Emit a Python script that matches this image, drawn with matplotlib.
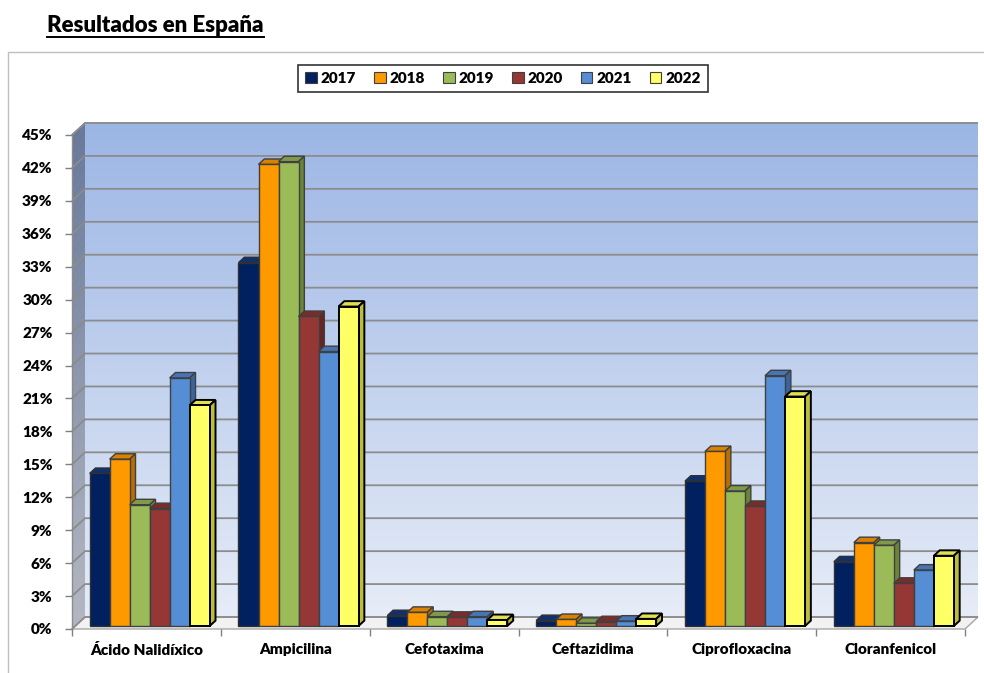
import matplotlib
matplotlib.use('Agg')
import matplotlib.pyplot as plt
from matplotlib.patches import Polygon, Rectangle, Patch
from matplotlib.ticker import FuncFormatter
import numpy as np

plt.rcParams['font.family'] = ['Lato', 'DejaVu Sans']
BOLD = 'heavy'

# DATA
categories = ['Ácido Nalidíxico', 'Ampicilina', 'Cefotaxima', 'Ceftazidima',
              'Ciprofloxacina', 'Cloranfenicol']
years = ['2017', '2018', '2019', '2020', '2021', '2022']

# % of resistant isolates per antibiotic, one list per year
v2017 = [13.9, 33.1, 0.95, 0.5, 13.2, 5.85]
v2018 = [15.2, 42.05, 1.25, 0.6, 15.9, 7.6]
v2019 = [11.05, 42.3, 0.85, 0.25, 12.3, 7.35]
v2020 = [10.7, 28.2, 0.8, 0.4, 10.9, 3.9]
v2021 = [22.6, 25.0, 0.85, 0.45, 22.8, 5.1]
v2022 = [20.1, 29.1, 0.55, 0.65, 20.9, 6.4]
series = [v2017, v2018, v2019, v2020, v2021, v2022]

yticks = list(range(0, 46, 3))

# face colours (front, top, side) for each year
front_cols = ['#002060', '#FF9900', '#9BBB59', '#953735', '#558ED5', '#FFFF66']
top_cols = ['#11306E', '#D98200', '#7F9A48', '#7A2C2B', '#4674B4', '#E0E050']
side_cols = ['#001548', '#B86E00', '#6A8438', '#692322', '#3A64A0', '#BDBD3A']
edge_cols = ['#303030', '#404040', '#404040', '#404040', '#404040', '#000000']

W, H = 984, 673
fig = plt.figure(figsize=(W / 100, H / 100), dpi=100)

# chart area frame
fig.add_artist(Rectangle((8 / W, -0.01), 1.0, 1 - 52 / H + 0.01, transform=fig.transFigure,
                         fill=False, edgecolor='#BFBFBF', linewidth=1.0, clip_on=False))

# front plane of the plot: x 72..965 px, 0% at y=629, 45% at y=135
ax_l, ax_r, ax_b, ax_t = 72, 965, 629, 135
ax = fig.add_axes([ax_l / W, (H - ax_b) / H, (ax_r - ax_l) / W, (ax_b - ax_t) / H])
ax.set_xlim(0, 6)
ax.set_ylim(0, 45)
ax.patch.set_visible(False)
for s in ax.spines.values():
    s.set_visible(False)

px_x = (ax_r - ax_l) / 6.0
px_y = (ax_b - ax_t) / 45.0
DX = 13 / px_x   # wall depth in data units
DY = 12 / px_y

# back wall gradient
top_c = np.array([0x9B, 0xB5, 0xE4]) / 255
bot_c = np.array([0xE6, 0xEC, 0xF7]) / 255
n = 150
edges = np.linspace(0, 45, n + 1)
for k in range(n):
    t = (edges[k] + edges[k + 1]) / 90
    c = bot_c + (top_c - bot_c) * t
    ax.add_patch(Rectangle((DX, DY + edges[k]), 6, edges[k + 1] - edges[k] + 0.05,
                           facecolor=c, edgecolor='none', zorder=0, clip_on=False))

# left side wall gradient
lw_top = np.array([0x66, 0x77, 0x98]) / 255
lw_bot = np.array([0xB2, 0xB6, 0xC0]) / 255
for k in range(n):
    t = (edges[k] + edges[k + 1]) / 90
    c = lw_bot + (lw_top - lw_bot) * t
    y0, y1 = edges[k], edges[k + 1] + 0.05
    ax.add_patch(Polygon([(0, y0), (0, y1), (DX, y1 + DY), (DX, y0 + DY)], closed=True,
                         facecolor=c, edgecolor='none', zorder=0, clip_on=False))

# floor
ax.add_patch(Polygon([(0, 0), (6, 0), (6 + DX, DY), (DX, DY)], closed=True,
                     facecolor='#F2F2F2', edgecolor='#A6A6A6', linewidth=1.0,
                     zorder=1, clip_on=False))

# gridlines on left and back wall
for v in yticks:
    ax.plot([0, DX, 6 + DX], [v, v + DY, v + DY], color='#8C8C8C', linewidth=1.3,
            zorder=1.5, clip_on=False, solid_capstyle='butt')
ax.plot([0, 0], [0, 45], color='#8C8C8C', linewidth=1.0, zorder=1.5, clip_on=False)
ax.plot([0, DX], [45, 45 + DY], color='#8C8C8C', linewidth=1.0, zorder=1.5, clip_on=False)

# bars
bw = 20 / px_x
bdx, bdy = 0.45 * DX, 0.45 * DY
off_x, off_y = 0.25 * DX, 0.25 * DY
cx = np.arange(6) + 0.5
for j, vals in enumerate(series):
    xl = cx + (j - 3) * bw + off_x
    lwid = 1.4 if j == 5 else 1.0
    ax.bar(xl, vals, width=bw, bottom=off_y, align='edge', color=front_cols[j],
           edgecolor=edge_cols[j], linewidth=lwid, zorder=5 + 2 * j, clip_on=False)
    for x0, v in zip(xl, vals):
        yt = off_y + v
        ax.add_patch(Polygon([(x0, yt), (x0 + bw, yt), (x0 + bw + bdx, yt + bdy), (x0 + bdx, yt + bdy)],
                             closed=True, facecolor=top_cols[j], edgecolor=edge_cols[j],
                             linewidth=lwid, zorder=4 + 2 * j, clip_on=False))
        ax.add_patch(Polygon([(x0 + bw, off_y), (x0 + bw + bdx, off_y + bdy),
                              (x0 + bw + bdx, yt + bdy), (x0 + bw, yt)],
                             closed=True, facecolor=side_cols[j], edgecolor=edge_cols[j],
                             linewidth=lwid, zorder=4 + 2 * j, clip_on=False))

# axes ticks and labels
ax.set_yticks(yticks)
ax.yaxis.set_major_formatter(FuncFormatter(lambda v, p: f'{v:.0f}%'))
ax.tick_params(axis='y', length=5, color='#808080', width=1.0, pad=9, labelsize=11)
for lab in ax.get_yticklabels():
    lab.set_fontweight(BOLD)

ax.set_xticks(np.arange(7))
ax.set_xticklabels([])
ax.set_xticks(cx, minor=True)
ax.set_xticklabels(categories, minor=True, fontsize=11, fontweight=BOLD)
ax.tick_params(axis='x', which='major', length=5, color='#808080', width=1.0)
ax.tick_params(axis='x', which='minor', length=0, pad=10)

# legend
handles = [Patch(facecolor=c, edgecolor='#404040', linewidth=0.8) for c in front_cols]
leg = fig.legend(handles, years, loc='center', bbox_to_anchor=(503 / W, 1 - 78.5 / H),
                 ncol=6, frameon=True, fancybox=False, edgecolor='#000000',
                 prop={'weight': BOLD, 'size': 11}, handlelength=0.75, handleheight=0.75,
                 handletextpad=0.25, columnspacing=1.2, borderpad=0.45)
leg.get_frame().set_linewidth(1.2)

# title with underline
title = fig.text(47 / W, 1 - 26 / H, 'Resultados en España', fontsize=16,
                 fontweight=BOLD, va='center', ha='left')
fig.canvas.draw()
bb = title.get_window_extent(fig.canvas.get_renderer())
uy = (H - 37) / H
fig.add_artist(plt.Line2D([bb.x0 / W, bb.x1 / W], [uy, uy], transform=fig.transFigure,
                          color='black', linewidth=1.4))

fig.savefig('out.png', dpi=100)
